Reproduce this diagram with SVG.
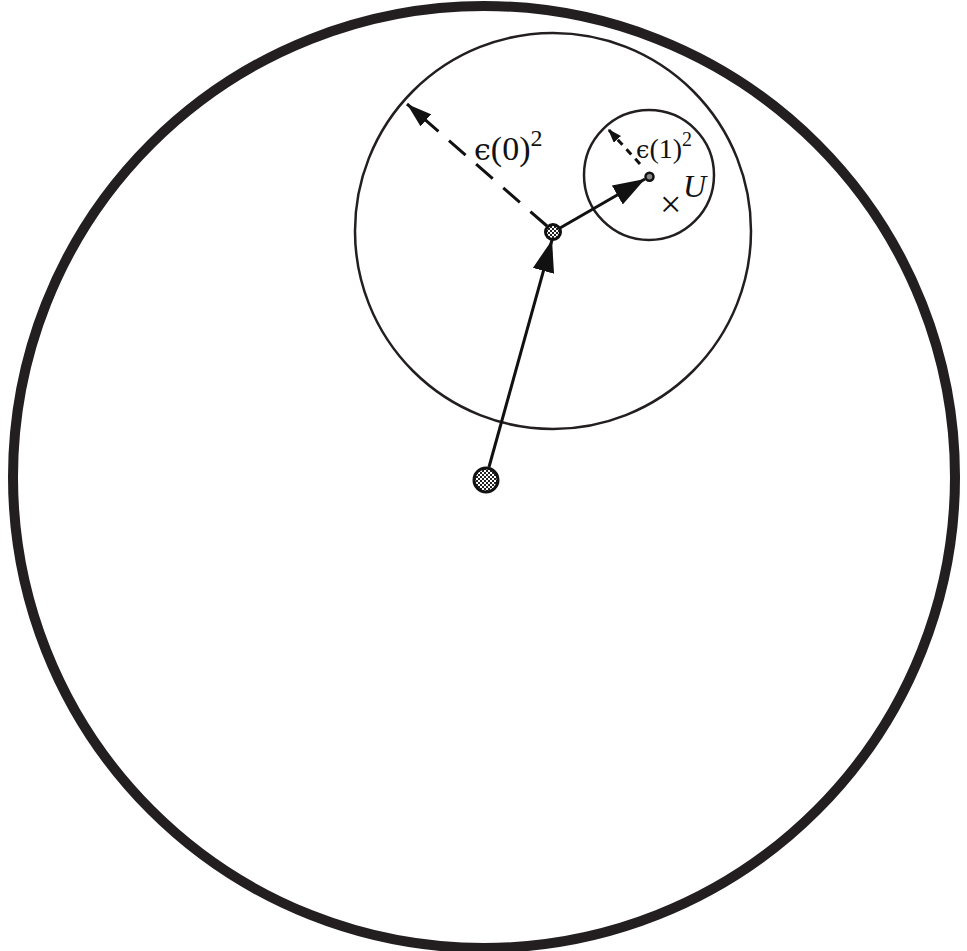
<svg xmlns="http://www.w3.org/2000/svg" width="967" height="951" viewBox="0 0 967 951">
<defs>
<pattern id="chk" width="4" height="4" patternUnits="userSpaceOnUse">
<rect width="4" height="4" fill="#fff"/>
<rect width="2" height="2" fill="#222"/>
<rect x="2" y="2" width="2" height="2" fill="#222"/>
</pattern>
<marker id="ah" viewBox="0 0 32 22" refX="32" refY="11" markerWidth="32" markerHeight="22" markerUnits="userSpaceOnUse" orient="auto">
<path d="M0,0 L32,11 L0,22 Z" fill="#111"/>
</marker>
<marker id="ahd" viewBox="0 0 25 16" refX="25" refY="8" markerWidth="25" markerHeight="16" markerUnits="userSpaceOnUse" orient="auto">
<path d="M0,0 L25,8 L0,16 Z" fill="#111"/>
</marker>
<marker id="ahxs" viewBox="0 0 14 10" refX="14" refY="5" markerWidth="14" markerHeight="10" markerUnits="userSpaceOnUse" orient="auto">
<path d="M0,0 L14,5 L0,10 Z" fill="#111"/>
</marker>
</defs>
<style>
.ring{fill:none;stroke:#231f20}
.lbl{font-family:"Liberation Serif",serif;fill:#111}
.eps{font-family:"DejaVu Serif",serif}
.conn{stroke:#111;stroke-width:3;fill:none}
.node{stroke:#111;fill:url(#chk)}
</style>
<g id="outer"><circle class="ring" cx="484" cy="477" r="471" stroke-width="10"/></g>
<g id="ball0"><circle class="ring" cx="553" cy="231" r="198" stroke-width="2.5"/></g>
<g id="ball1"><circle class="ring" cx="649" cy="175" r="65" stroke-width="2.5"/></g>
<g id="connectors">
<line class="conn" x1="489" y1="467" x2="552" y2="240" marker-end="url(#ah)"/>
<line class="conn" x1="560" y1="228" x2="645" y2="179" marker-end="url(#ah)"/>
<line class="conn" x1="547" y1="226" x2="407" y2="104" stroke-dasharray="22,14" marker-end="url(#ahd)"/>
<line class="conn" x1="640" y1="164" x2="608" y2="129" stroke-width="2" stroke-dasharray="7,6" marker-end="url(#ahxs)"/>
</g>
<g id="n0"><circle class="node" cx="486" cy="480" r="12" stroke-width="3"/></g>
<g id="n1"><circle class="node" cx="553" cy="232" r="7.5" stroke-width="3"/></g>
<g id="n2"><circle cx="649.5" cy="176.7" r="4" fill="#888" stroke="#111" stroke-width="2.5"/></g>
<g id="labels">
<text class="lbl" x="474" y="160" font-size="34"><tspan class="eps" font-size="30">ϵ</tspan>(0)<tspan font-size="24" dy="-14">2</tspan></text>
<text class="lbl" x="636" y="158" font-size="28"><tspan class="eps" font-size="24">ϵ</tspan>(1)<tspan font-size="20" dy="-12">2</tspan></text>
<text class="lbl" x="683" y="197" font-size="32" font-style="italic">U</text>
<text class="lbl" x="660" y="217" font-size="38">×</text>
</g>
</svg>
